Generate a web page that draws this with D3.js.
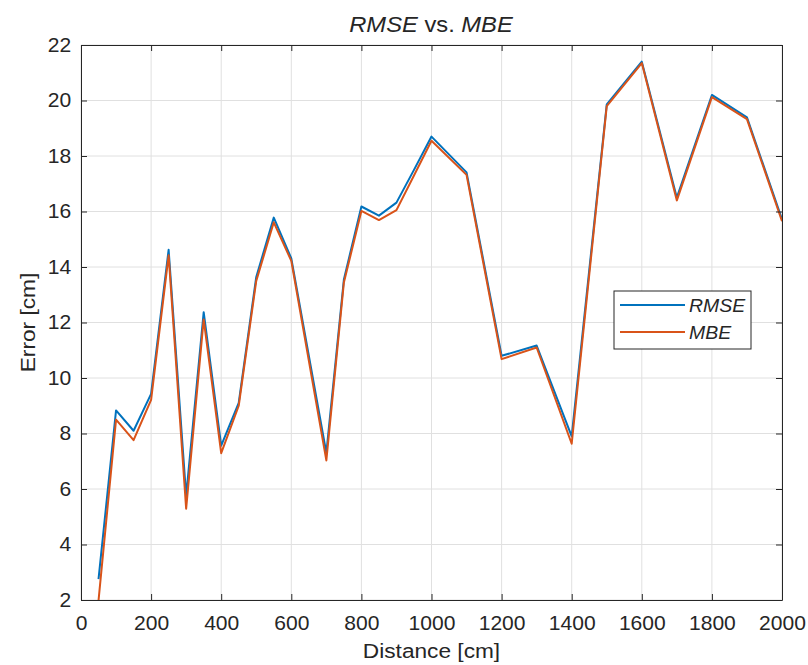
<!DOCTYPE html>
<html><head><meta charset="utf-8">
<script src="https://cdn.jsdelivr.net/npm/d3@7"></script>
<style>body{margin:0;background:#fff;} text{font-family:"Liberation Sans",Arial,Helvetica,sans-serif;fill:#262626;}</style>
</head><body><svg id="c" width="808" height="665"></svg>
<script>
const distance = [50,100,150,200,250,300,350,400,450,500,550,600,700,750,800,850,900,950,1000,1100,1200,1300,1400,1500,1600,1700,1800,1900,2000];
const rmse = [2.75,8.83,8.10,9.43,14.62,5.75,12.37,7.56,9.10,13.64,15.78,14.31,7.30,13.55,16.18,15.85,16.32,17.50,18.70,17.41,10.80,11.17,7.90,19.86,21.40,16.50,20.20,19.39,15.72];
const mbe  = [1.98,8.50,7.76,9.21,14.42,5.29,12.11,7.29,9.00,13.50,15.61,14.22,7.03,13.44,16.02,15.69,16.05,17.30,18.55,17.32,10.68,11.10,7.63,19.80,21.35,16.40,20.12,19.33,15.65];
const xTicks = [0,200,400,600,800,1000,1200,1400,1600,1800,2000];
const yTicks = [2,4,6,8,10,12,14,16,18,20,22];
const seriesNames = ["RMSE","MBE"];
const colors = ["#0072BD","#D95319"];

const svg = d3.select("#c");
const L=81,R=782,T=45,B=600;
const SX = 1.08;
const x = d3.scaleLinear().domain([0,2000]).range([L,R]);
const y = d3.scaleLinear().domain([2,22]).range([B,T]);

svg.append("g").selectAll("line").data(xTicks).join("line")
  .attr("x1",d=>x(d)).attr("x2",d=>x(d)).attr("y1",T).attr("y2",B)
  .attr("stroke","#e0e0e0").attr("stroke-width",1);
svg.append("g").selectAll("line").data(yTicks).join("line")
  .attr("x1",L).attr("x2",R).attr("y1",d=>y(d)).attr("y2",d=>y(d))
  .attr("stroke","#e0e0e0").attr("stroke-width",1);

svg.append("clipPath").attr("id","clip").append("rect").attr("x",L).attr("y",T).attr("width",R-L).attr("height",B-T);

const line = d3.line().x(d=>x(d[0])).y(d=>y(d[1]));
[rmse,mbe].forEach((s,i)=>{
  svg.append("path").datum(distance.map((d,j)=>[d,s[j]]))
    .attr("d",line).attr("fill","none").attr("stroke",colors[i]).attr("stroke-width",2)
    .attr("stroke-linejoin","round").attr("clip-path","url(#clip)");
});

const fmt = d3.format("d");
const axB = d3.axisBottom(x).tickValues(xTicks).tickFormat(fmt).tickSizeInner(-6).tickSizeOuter(0).tickPadding(16);
const axT = d3.axisTop(x).tickValues(xTicks).tickSizeInner(-6).tickSizeOuter(0).tickFormat("");
const axL = d3.axisLeft(y).tickValues(yTicks).tickFormat(fmt).tickSizeInner(-6).tickSizeOuter(0).tickPadding(9);
const axR = d3.axisRight(y).tickValues(yTicks).tickSizeInner(-6).tickSizeOuter(0).tickFormat("");
function style(g){g.selectAll("path").attr("stroke","#262626");g.selectAll("line").attr("stroke","#262626");
  g.selectAll("text").attr("font-size","19.5px").attr("fill","#262626")
   .attr("font-family","'Liberation Sans',Arial,sans-serif").attr("transform",`scale(${SX},1)`);}
svg.append("g").attr("transform",`translate(0,${B})`).call(axB).call(style);
svg.append("g").attr("transform",`translate(0,${T})`).call(axT).call(style);
svg.append("g").attr("transform",`translate(${L},0)`).call(axL).call(style);
svg.append("g").attr("transform",`translate(${R},0)`).call(axR).call(style);

const title = svg.append("text").attr("transform",`translate(431,32) scale(${SX},1)`).attr("text-anchor","middle").attr("font-size","22px");
title.append("tspan").attr("font-style","italic").text("RMSE");
title.append("tspan").text(" vs. ");
title.append("tspan").attr("font-style","italic").text("MBE");

svg.append("text").attr("transform",`translate(${(L+R)/2},658) scale(${SX},1)`).attr("text-anchor","middle").attr("font-size","21px").text("Distance [cm]");
svg.append("text").attr("transform",`translate(35,${(T+B)/2}) rotate(-90) scale(${SX},1)`).attr("text-anchor","middle").attr("font-size","21px").text("Error [cm]");

const lg = svg.append("g");
lg.append("rect").attr("x",614).attr("y",291).attr("width",137).attr("height",58).attr("fill","#fff").attr("stroke","#262626").attr("stroke-width",1);
seriesNames.forEach((n,i)=>{
  const yy = 305 + i*27;
  lg.append("line").attr("x1",620).attr("x2",685).attr("y1",yy).attr("y2",yy).attr("stroke",colors[i]).attr("stroke-width",2);
  lg.append("text").attr("transform",`translate(689,${yy+6.5}) scale(${SX},1)`).attr("font-size","18px").attr("font-style","italic").text(n);
});
</script></body></html>
